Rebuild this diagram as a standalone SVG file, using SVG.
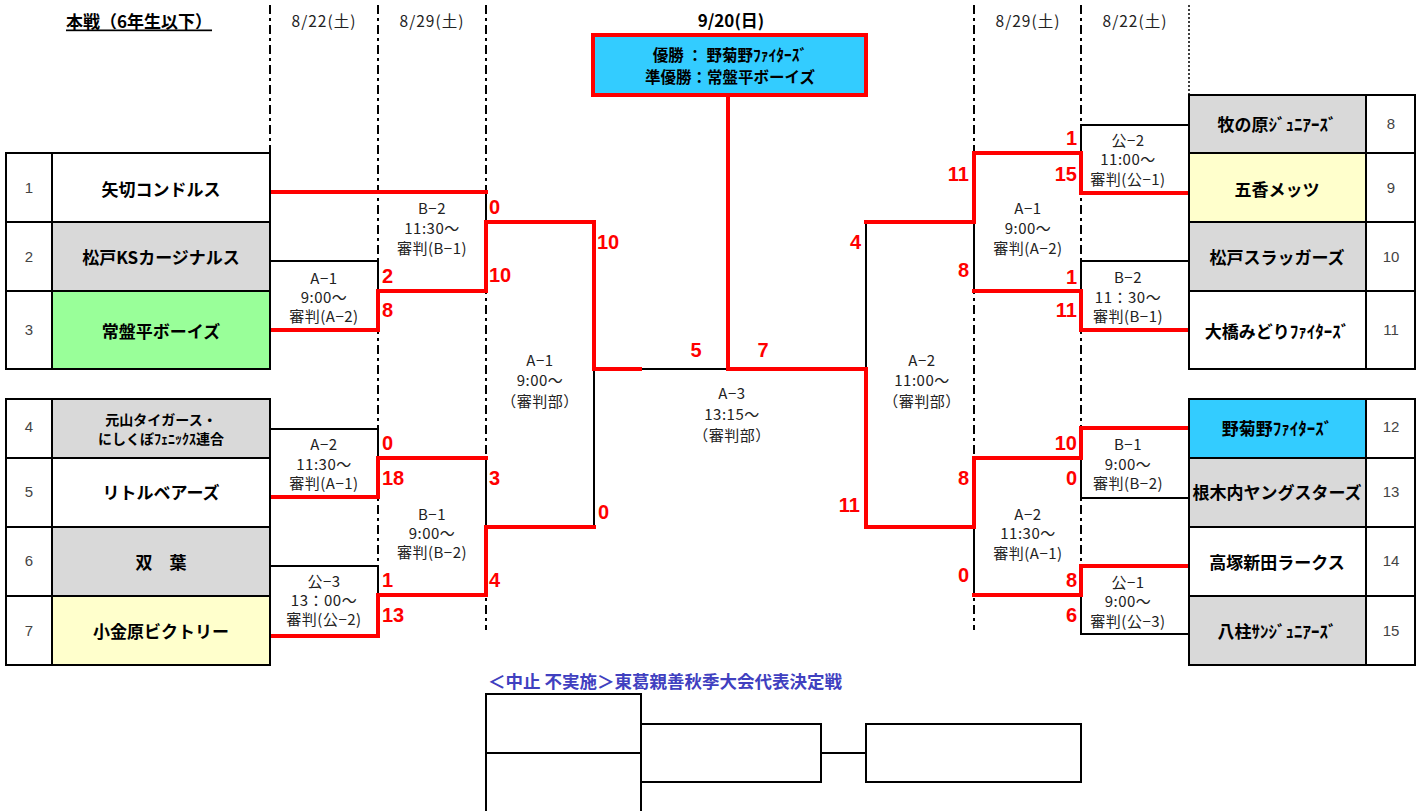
<svg xmlns="http://www.w3.org/2000/svg" width="1421" height="811" viewBox="0 0 1421 811">
<style>
text{font-family:"Noto Sans CJK JP","Noto Sans",sans-serif;dominant-baseline:central}
.cell{fill:#fff;stroke:#000;stroke-width:2}
.g{fill:#D9D9D9}
.gr{fill:#99FF99}
.y{fill:#FFFFCC}
.c{fill:#33CCFF}
.team{font-size:17px;font-weight:bold;text-anchor:middle;fill:#000}
.team2{font-size:14px;font-weight:bold;text-anchor:middle;fill:#000}
.num{font-family:"Liberation Sans","Noto Sans",sans-serif;font-size:15px;text-anchor:middle;fill:#444}
.lbl{font-size:15px;letter-spacing:0.5px;text-anchor:middle;fill:#222}
.date{font-size:15.5px;letter-spacing:1px;text-anchor:middle;fill:#222}
.sc{font-family:"Liberation Sans","Noto Sans",sans-serif;font-size:20px;font-weight:bold;fill:#FF0000}
.r{text-anchor:end}
.m{text-anchor:middle}
.blk{fill:none;stroke:#000;stroke-width:2}
.red{fill:none;stroke:#FF0000;stroke-width:4;stroke-linejoin:miter;stroke-linecap:square}
.dash{fill:none;stroke:#000;stroke-width:2;stroke-dasharray:9,4,3,4}
.dot{fill:none;stroke:#000;stroke-width:1.5;stroke-dasharray:2,2}
.hd{font-weight:bold;text-anchor:middle;fill:#000}
</style>
<rect width="1421" height="811" fill="#fff"/>

<g id="header">
<text class="hd" x="139" y="20" style="font-size:17px;text-decoration:underline">本戦（6年生以下）</text>
<text class="date" x="324" y="20">8/22(土)</text>
<text class="date" x="432" y="20">8/29(土)</text>
<text class="hd" x="731" y="19" style="font-size:17px">9/20(日)</text>
<text class="date" x="1028" y="20">8/29(土)</text>
<text class="date" x="1135" y="20">8/22(土)</text>
</g>

<g id="guides">
<line class="dash" x1="270" y1="5" x2="270" y2="153"/>
<line class="dash" x1="378" y1="5" x2="378" y2="636"/>
<line class="dash" x1="486" y1="5" x2="486" y2="630"/>
<line class="dash" x1="974" y1="5" x2="974" y2="630"/>
<line class="dash" x1="1081" y1="5" x2="1081" y2="634"/>
<line class="dot" x1="1189" y1="5" x2="1189" y2="95"/>
</g>

<g id="connectors">
<polyline class="blk" points="270,261 378,261 378,291"/>
<line class="blk" x1="486" y1="192" x2="486" y2="222"/>
<polyline class="blk" points="270,429 378,429 378,458"/>
<polyline class="blk" points="270,566 378,566 378,596"/>
<line class="blk" x1="486" y1="458" x2="486" y2="527"/>
<line class="blk" x1="594" y1="369" x2="594" y2="527"/>
<line class="blk" x1="641" y1="369" x2="728" y2="369"/>
<line class="blk" x1="866" y1="222" x2="866" y2="369"/>
<polyline class="blk" points="1189,125 1081,125 1081,153"/>
<line class="blk" x1="974" y1="222" x2="974" y2="291"/>
<polyline class="blk" points="1189,261 1081,261 1081,291"/>
<polyline class="blk" points="1189,498 1081,498 1081,458"/>
<line class="blk" x1="974" y1="527" x2="974" y2="595"/>
<polyline class="blk" points="1189,634 1081,634 1081,595"/>

<line class="red" x1="270" y1="192" x2="486" y2="192"/>
<polyline class="red" points="270,330 378,330 378,291 486,291 486,222 594,222 594,369 640,369"/>
<polyline class="red" points="270,497 378,497 378,458 486,458"/>
<polyline class="red" points="270,636 378,636 378,595 486,595 486,527 594,527"/>
<polyline class="red" points="728,95 728,369 866,369 866,527 974,527 974,458 1081,458 1081,428 1189,428"/>
<polyline class="red" points="866,222 974,222 974,153 1081,153 1081,193 1189,193"/>
<polyline class="red" points="974,291 1081,291 1081,330 1189,330"/>
<polyline class="red" points="974,595 1081,595 1081,566 1189,566"/>
</g>

<g id="champion">
<rect x="593" y="35" width="273" height="60" fill="#33CCFF" stroke="#FF0000" stroke-width="4"/>
<text class="hd" x="730" y="54" style="font-size:15.5px">優勝 ： 野菊野ﾌｧｲﾀｰｽﾞ</text>
<text class="hd" x="730" y="76" style="font-size:15.5px">準優勝：常盤平ボーイズ</text>
</g>

<g id="team-1"><rect class="cell" x="6" y="153" width="46" height="69"/><rect class="cell" x="52" y="153" width="218" height="69"/><text class="num" x="29" y="187">1</text><text class="team" x="161" y="188">矢切コンドルス</text></g>
<g id="team-2"><rect class="cell" x="6" y="222" width="46" height="69"/><rect class="cell g" x="52" y="222" width="218" height="69"/><text class="num" x="29" y="256">2</text><text class="team" x="161" y="256">松戸KSカージナルス</text></g>
<g id="team-3"><rect class="cell" x="6" y="291" width="46" height="78"/><rect class="cell gr" x="52" y="291" width="218" height="78"/><text class="num" x="29" y="329">3</text><text class="team" x="161" y="330">常盤平ボーイズ</text></g>
<g id="team-4"><rect class="cell" x="6" y="399" width="46" height="59"/><rect class="cell g" x="52" y="399" width="218" height="59"/><text class="num" x="29" y="426">4</text><text class="team2" x="161" y="419">元山タイガース・</text><text class="team2" x="161" y="438">にしくぼﾌｪﾆｯｸｽ連合</text></g>
<g id="team-5"><rect class="cell" x="6" y="458" width="46" height="69"/><rect class="cell" x="52" y="458" width="218" height="69"/><text class="num" x="29" y="491">5</text><text class="team" x="161" y="491">リトルベアーズ</text></g>
<g id="team-6"><rect class="cell" x="6" y="527" width="46" height="69"/><rect class="cell g" x="52" y="527" width="218" height="69"/><text class="num" x="29" y="560">6</text><text class="team" x="161" y="561">双　葉</text></g>
<g id="team-7"><rect class="cell" x="6" y="596" width="46" height="69"/><rect class="cell y" x="52" y="596" width="218" height="69"/><text class="num" x="29" y="630">7</text><text class="team" x="161" y="630">小金原ビクトリー</text></g>

<g id="team-8"><rect class="cell g" x="1189" y="95" width="177" height="58"/><rect class="cell" x="1366" y="95" width="49" height="58"/><text class="num" x="1391" y="123">8</text><text class="team" x="1277" y="123">牧の原ｼﾞｭﾆｱｰｽﾞ</text></g>
<g id="team-9"><rect class="cell y" x="1189" y="153" width="177" height="69"/><rect class="cell" x="1366" y="153" width="49" height="69"/><text class="num" x="1391" y="187">9</text><text class="team" x="1277" y="188">五香メッツ</text></g>
<g id="team-10"><rect class="cell g" x="1189" y="222" width="177" height="69"/><rect class="cell" x="1366" y="222" width="49" height="69"/><text class="num" x="1391" y="256">10</text><text class="team" x="1277" y="256">松戸スラッガーズ</text></g>
<g id="team-11"><rect class="cell" x="1189" y="291" width="177" height="78"/><rect class="cell" x="1366" y="291" width="49" height="78"/><text class="num" x="1391" y="329">11</text><text class="team" x="1277" y="330">大橋みどりﾌｧｲﾀｰｽﾞ</text></g>
<g id="team-12"><rect class="cell c" x="1189" y="399" width="177" height="59"/><rect class="cell" x="1366" y="399" width="49" height="59"/><text class="num" x="1391" y="426">12</text><text class="team" x="1277" y="427">野菊野ﾌｧｲﾀｰｽﾞ</text></g>
<g id="team-13"><rect class="cell g" x="1189" y="458" width="177" height="69"/><rect class="cell" x="1366" y="458" width="49" height="69"/><text class="num" x="1391" y="491">13</text><text class="team" x="1277" y="491">根木内ヤングスターズ</text></g>
<g id="team-14"><rect class="cell" x="1189" y="527" width="177" height="69"/><rect class="cell" x="1366" y="527" width="49" height="69"/><text class="num" x="1391" y="560">14</text><text class="team" x="1277" y="561">高塚新田ラークス</text></g>
<g id="team-15"><rect class="cell g" x="1189" y="596" width="177" height="69"/><rect class="cell" x="1366" y="596" width="49" height="69"/><text class="num" x="1391" y="630">15</text><text class="team" x="1277" y="630">八柱ｻﾝｼﾞｭﾆｱｰｽﾞ</text></g>

<g id="matches">
<text class="lbl" x="324" y="277">A−1</text><text class="lbl" x="324" y="296">9:00～</text><text class="lbl" x="324" y="315">審判(A−2)</text>
<text class="lbl" x="432" y="207">B−2</text><text class="lbl" x="432" y="227">11:30～</text><text class="lbl" x="432" y="247">審判(B−1)</text>
<text class="lbl" x="324" y="443">A−2</text><text class="lbl" x="324" y="463">11:30～</text><text class="lbl" x="324" y="482">審判(A−1)</text>
<text class="lbl" x="432" y="513">B−1</text><text class="lbl" x="432" y="532">9:00～</text><text class="lbl" x="432" y="551">審判(B−2)</text>
<text class="lbl" x="324" y="580">公−3</text><text class="lbl" x="324" y="599">13：00～</text><text class="lbl" x="324" y="618">審判(公−2)</text>
<text class="lbl" x="540" y="359">A−1</text><text class="lbl" x="540" y="379">9:00～</text><text class="lbl" x="540" y="400">（審判部）</text>
<text class="lbl" x="732" y="392">A−3</text><text class="lbl" x="732" y="413">13:15～</text><text class="lbl" x="732" y="434">（審判部）</text>
<text class="lbl" x="922" y="359">A−2</text><text class="lbl" x="922" y="379">11:00～</text><text class="lbl" x="922" y="400">（審判部）</text>
<text class="lbl" x="1128" y="139">公−2</text><text class="lbl" x="1128" y="158">11:00～</text><text class="lbl" x="1128" y="178">審判(公−1)</text>
<text class="lbl" x="1028" y="207">A−1</text><text class="lbl" x="1028" y="227">9:00～</text><text class="lbl" x="1028" y="247">審判(A−2)</text>
<text class="lbl" x="1128" y="276">B−2</text><text class="lbl" x="1128" y="296">11：30～</text><text class="lbl" x="1128" y="315">審判(B−1)</text>
<text class="lbl" x="1128" y="443">B−1</text><text class="lbl" x="1128" y="463">9:00～</text><text class="lbl" x="1128" y="482">審判(B−2)</text>
<text class="lbl" x="1028" y="513">A−2</text><text class="lbl" x="1028" y="532">11:30～</text><text class="lbl" x="1028" y="552">審判(A−1)</text>
<text class="lbl" x="1128" y="581">公−1</text><text class="lbl" x="1128" y="600">9:00～</text><text class="lbl" x="1128" y="620">審判(公−3)</text>
</g>

<g id="scores">
<text class="sc" x="382" y="276">2</text>
<text class="sc" x="382" y="310">8</text>
<text class="sc" x="489" y="207">0</text>
<text class="sc" x="489" y="275">10</text>
<text class="sc" x="382" y="443">0</text>
<text class="sc" x="382" y="478">18</text>
<text class="sc" x="489" y="478">3</text>
<text class="sc" x="382" y="580">1</text>
<text class="sc" x="382" y="615">13</text>
<text class="sc" x="489" y="580">4</text>
<text class="sc" x="597" y="242">10</text>
<text class="sc" x="598" y="512">0</text>
<text class="sc m" x="696" y="350">5</text>
<text class="sc m" x="763" y="350">7</text>
<text class="sc r" x="861" y="242">4</text>
<text class="sc r" x="860" y="505">11</text>
<text class="sc r" x="969" y="174">11</text>
<text class="sc r" x="969" y="270">8</text>
<text class="sc r" x="969" y="478">8</text>
<text class="sc r" x="969" y="575">0</text>
<text class="sc r" x="1077" y="138">1</text>
<text class="sc r" x="1077" y="174">15</text>
<text class="sc r" x="1077" y="277">1</text>
<text class="sc r" x="1077" y="310">11</text>
<text class="sc r" x="1077" y="443">10</text>
<text class="sc r" x="1077" y="478">0</text>
<text class="sc r" x="1077" y="580">8</text>
<text class="sc r" x="1077" y="615">6</text>
</g>

<g id="consolation">
<text x="488" y="680" style="font-size:17.5px;font-weight:bold;fill:#4040C0">＜中止 不実施＞東葛親善秋季大会代表決定戦</text>
<rect class="blk" x="486" y="694" width="155" height="59"/>
<rect class="blk" x="486" y="753" width="155" height="70"/>
<rect class="blk" x="641" y="724" width="180" height="58"/>
<line class="blk" x1="821" y1="753" x2="866" y2="753"/>
<rect class="blk" x="866" y="724" width="215" height="58"/>
</g>
</svg>
